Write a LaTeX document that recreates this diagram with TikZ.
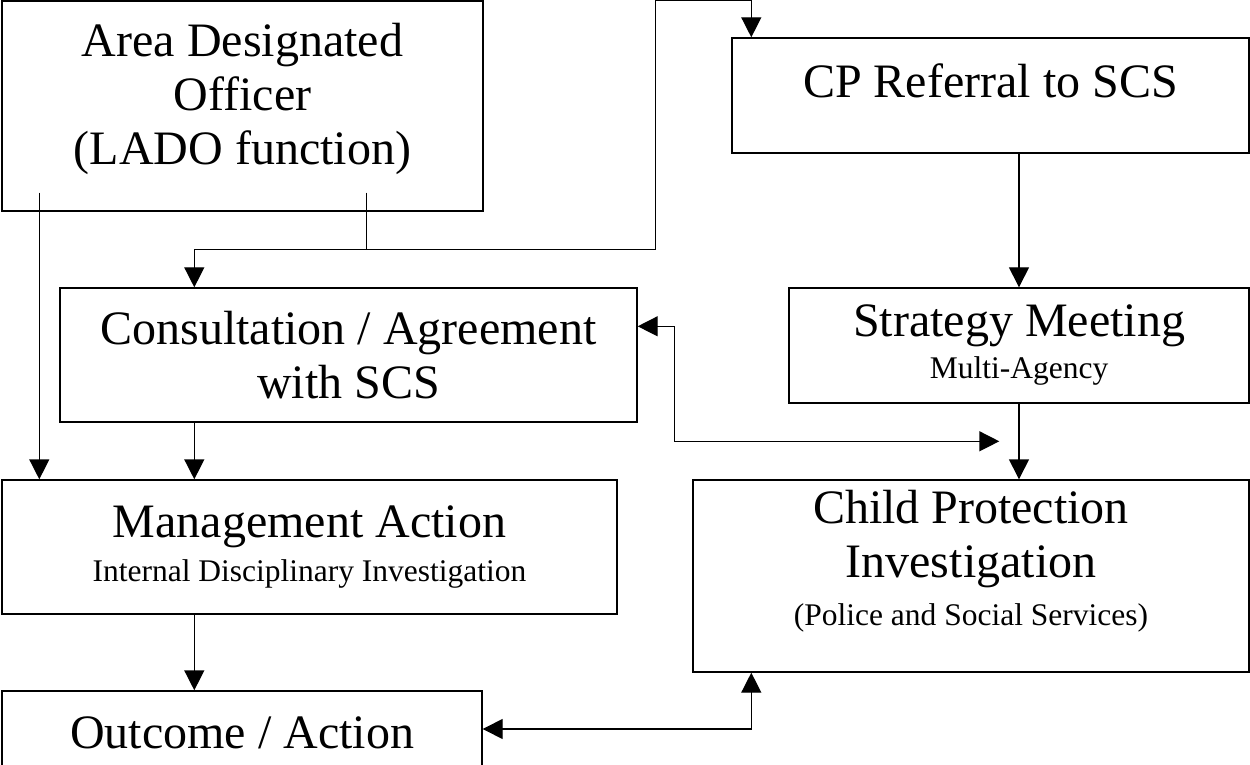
\documentclass[tikz,border=0pt]{standalone}
\usepackage{fontspec}
\setmainfont{Liberation Serif}
\usetikzlibrary{arrows.meta,calc}
\newcommand{\bigfont}{\fontsize{24}{27}\selectfont}
\newcommand{\subtext}[1]{{\fontsize{15.75}{19}\selectfont #1}}
\tikzset{
  box/.style={draw, line width=0.7pt, inner sep=0pt, align=center, font=\bigfont},
  arr/.style={-{Triangle[length=10pt,width=10pt]}, line width=0.7pt},
  dbl/.style={{Triangle[length=10pt,width=10pt]}-{Triangle[length=10pt,width=10pt]}, line width=0.7pt},
}
\begin{document}
\begin{tikzpicture}[x=0.5pt,y=-0.5pt]
\clip (0,0) rectangle (1250,765);
% boxes
\node[box, minimum width=240.5pt, minimum height=105pt, text depth=12pt] (lado) at (242.5,106)
  {Area Designated\\Officer\\(LADO function)};
\node[box, minimum width=258.5pt, minimum height=57.5pt, text depth=15pt] (cp) at (990.5,95.5)
  {CP Referral to SCS};
\node[box, minimum width=288.5pt, minimum height=67pt] (consult) at (348.5,355)
  {Consultation / Agreement\\with SCS};
\node[box, minimum width=230pt, minimum height=57.5pt] (strategy) at (1019,345.5)
  {Strategy Meeting\\[-6pt]\subtext{Multi-Agency}};
\node[box, minimum width=307.5pt, minimum height=67pt] (mgmt) at (309.5,547)
  {Management Action\\[-5pt]\subtext{Internal Disciplinary Investigation}};
\node[box, minimum width=278pt, minimum height=96pt, text depth=18pt] (child) at (971,576)
  {Child Protection\\Investigation\\[-3pt]\subtext{(Police and Social Services)}};
\node[box, minimum width=240pt, minimum height=42pt] (outcome) at (242,733)
  {Outcome / Action};
% connectors
\draw[arr] ($(lado.south west)+(38,-19)$) coordinate (l1) -- (l1 |- mgmt.north);
\draw ($(lado.south west)+(365,-19)$) coordinate (l2) -- ++(0,57) coordinate (j);
\coordinate (c1) at ($(consult.north west)+(135,0)$);
\draw[arr] (j) -| (c1);
\draw[arr] (j) -- ++(289,0) coordinate (k) -- (k |- lado.north) -| ($(cp.north west)+(20,0)$);
\draw[arr] (c1 |- consult.south) -- (c1 |- mgmt.north);
\draw[arr] (c1 |- mgmt.south) -- (c1 |- outcome.north);
\draw[arr] (strategy.north |- cp.south) -- (strategy.north);
\draw[arr] (strategy.south) -- (strategy.south |- child.north);
\coordinate (d1) at ($(consult.north east)+(0,39)$);
\coordinate (d2) at ($(child.north west)+(307,-38)$);
\draw[dbl] (d1) -- ++(37,0) |- (d2);
\draw[dbl] ($(outcome.east)+(0,-4)$) -| ($(child.south west)+(59,0)$);
\end{tikzpicture}
\end{document}
